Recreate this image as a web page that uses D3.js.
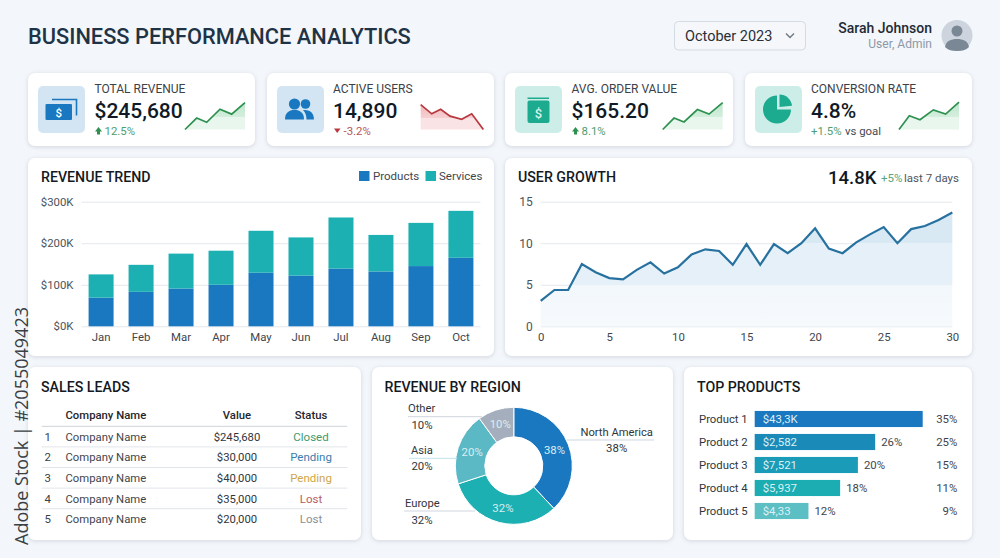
<!DOCTYPE html>
<html><head><meta charset="utf-8">
<script src="https://cdnjs.cloudflare.com/ajax/libs/d3/7.8.5/d3.min.js"></script>
<style>
html,body{margin:0;padding:0;background:#f3f6fa;overflow:hidden}
svg{display:block;font-family:Roboto,sans-serif}
.card{fill:#fff;filter:drop-shadow(0 1px 2px rgba(90,110,135,.22))}
.domain{display:none}
</style></head><body><svg id="c" width="1000" height="558"></svg>
<script>
// ---- data ----
const months=["Jan","Feb","Mar","Apr","May","Jun","Jul","Aug","Sep","Oct"];
const products=[69,83,91,100,129,122,139,132,145,165];
const services=[56,65,84,82,101,92,123,88,104,113];
const revenueTicks=[0,100,200,300];
const growthDays=d3.range(0,31);
const growthValues=[3.05,4.37,4.37,7.5,6.5,5.8,5.65,6.8,7.7,6.35,7.1,8.66,9.27,9.07,7.4,9.9,7.4,9.9,8.8,10,11.8,9.35,8.8,10.1,11.07,11.95,10,11.7,12.07,12.8,13.7];
const growthYTicks=[0,5,10,15];
const growthXTicks=[0,5,10,15,20,25,30];
const kpiLabels=["TOTAL REVENUE","ACTIVE USERS","AVG. ORDER VALUE","CONVERSION RATE"];
const kpiValues=["$245,680","14,890","$165.20","4.8%"];
const kpiDeltas=["12.5%","-3.2%","8.1%","+1.5%"];
const sparkX=[[0,35,65,105,140,180],[0,33,60,88,123,153,188],[0,34,64,104,139,180],[0,31,63,103,140,180]];
const sparkY=[[0,35,22,62,47,82],[76,48,62,41,31,48,0],[0,35,23,61,47,82],[0,42,30,60,47,84]];
const leadNo=[1,2,3,4,5];
const leadNames=["Company Name","Company Name","Company Name","Company Name","Company Name"];
const leadValues=["$245,680","$30,000","$40,000","$35,000","$20,000"];
const leadStatus=["Closed","Pending","Pending","Lost","Lost"];
const regions=["North America","Europe","Asia","Other"];
const regionShare=[38,32,20,10];
const productNames=["Product 1","Product 2","Product 3","Product 4","Product 5"];
const productBars=[35,25.1,21.5,17.8,11.2];
const productRevenue=["$43,3K","$2,582","$7,521","$5,937","$4,33"];
const productShareA=["","26%","20%","18%","12%"];
const productShareB=["35%","25%","15%","11%","9%"];

// ---- styles ----
const kpiX=[28,267,505,745], kpiW=[227,227,228,227], kpiTextX=[94.5,333,571.5,811];
const statusColors=["#3f9a6d","#3c7cab","#d0a646","#b85c64","#8a8f95"];
const regionColors=["#1a78c0","#1cb0b2","#5bb9c6","#a5aebd"];
const barColors=["#1a78c0","#1a8bb8","#1a9cb8","#1cadb2","#5bbfc4"];
const GREEN="#2e9150",RED="#b8383e";
const SMALL=11.4;

const svg=d3.select("#c");
svg.append("rect").attr("width",1000).attr("height",558).attr("fill","#f3f6fa");
const defs=svg.append("defs");
function txt(s,x,y,size,col,opt={}){
  return svg.append("text").attr("x",x).attr("y",y).attr("font-size",size).attr("fill",col)
    .attr("font-weight",opt.w||400).attr("text-anchor",opt.a||"start").text(s);
}
function card(x,y,w,h){svg.append("rect").attr("class","card").attr("x",x).attr("y",y).attr("width",w).attr("height",h).attr("rx",7);}

// header
txt("BUSINESS PERFORMANCE ANALYTICS",28,44,21.8,"#1f3347",{w:500});
svg.append("rect").attr("x",674.5).attr("y",21.5).attr("width",131).attr("height",28.5).attr("rx",4).attr("fill","#f5f7fa").attr("stroke","#d5dbe2");
txt("October 2023",685,41,14.5,"#2a2f36");
svg.append("path").attr("d","M786 33.5l4 4 4-4").attr("fill","none").attr("stroke","#6b7580").attr("stroke-width",1.3);
txt("Sarah Johnson",932,33,14,"#1f2a36",{a:"end",w:500});
txt("User, Admin",932,48,12,"#8d99a8",{a:"end"});
svg.append("circle").attr("cx",957).attr("cy",35.5).attr("r",15.5).attr("fill","#cdd4dd");
svg.append("circle").attr("cx",957).attr("cy",31).attr("r",5.5).attr("fill","#7a8794");
svg.append("path").attr("d","M945 47c1-6 6-8 12-8s11 2 12 8c-3 3-7 4-12 4s-9-1-12-4z").attr("fill","#7a8794");

// KPI cards
kpiX.forEach((x,i)=>{
  card(x,73,kpiW[i],73);
  const ix=x+10, tx=kpiTextX[i];
  svg.append("rect").attr("x",ix).attr("y",86).attr("width",47).attr("height",47).attr("rx",5).attr("fill",i<2?"#d3e5f2":"#cdeee8");
  txt(kpiLabels[i],tx,93,12,"#3b4148");
  txt(kpiValues[i],tx,118,21,"#0f1a26",{w:500});
  const up=i!==1, col=up?GREEN:RED;
  if(i<3){
    const ay=130.5;
    svg.append("path").attr("d",up?`M${x+67} ${ay+1}l3.5-4.5 3.5 4.5h-2v3h-3v-3z`:`M${x+67} ${ay-2}h6.500l-3.250 4.500z`).attr("fill",col);
    txt(kpiDeltas[i],x+76.500,134.5,SMALL,up?"#4f9e70":"#b8555a");
  } else {
    txt(kpiDeltas[i],x+66,134.5,SMALL,"#4f9e70");
    txt("vs goal",x+100,134.5,SMALL,"#444b53");
  }
  // sparkline
  const left=[185,420.7,662.7,899][i];
  const xs=d3.scaleLinear().domain([0,d3.max(sparkX[i])]).range([left,left+d3.max(sparkX[i])/3]);
  const ys=d3.scaleLinear().domain([0,82]).range([129.5,102.7]);
  const gid="sg"+i;
  const g=defs.append("linearGradient").attr("id",gid).attr("x1",0).attr("x2",0).attr("y1",0).attr("y2",1);
  const tones=up?["#bfe5cc","#d5efdd","#e8f6ed"]:["#f0b9bc","#f6d0d2","#fae3e4"];
  [[0,tones[0]],[.55,tones[1]],[.55,tones[2]],[1,tones[2]]].forEach(s=>g.append("stop").attr("offset",s[0]).attr("stop-color",s[1]));
  const pts=sparkX[i].map((v,k)=>[v,sparkY[i][k]]);
  svg.append("path").attr("fill",`url(#${gid})`)
    .attr("d",d3.area().x(d=>xs(d[0])).y0(ys(0)).y1(d=>ys(d[1]))(pts));
  svg.append("path").attr("fill","none").attr("stroke",col).attr("stroke-width",1.7)
    .attr("d",d3.line().x(d=>xs(d[0])).y(d=>ys(d[1]))(pts));
});
// icons
const BLUE="#1a78c0",TEAL="#1dab90";
svg.append("path").attr("d","M52 99.5h24.5v16").attr("fill","none").attr("stroke",BLUE).attr("stroke-width",1.6);
svg.append("rect").attr("x",45.5).attr("y",104).attr("width",26.5).attr("height",16).attr("rx",1).attr("fill",BLUE);
txt("$",58.8,116.5,11.5,"#fff",{a:"middle",w:500});
[[294,110,5.6,BLUE],[305,110,4.8,BLUE]].forEach(c=>svg.append("circle").attr("cx",c[0]+.5).attr("cy",c[1]-6).attr("r",c[2]).attr("fill",c[3]));
svg.append("path").attr("d","M285 119.5c0-7 4-9.5 9.5-9.5s9.5 2.5 9.5 9.5z").attr("fill",BLUE);
svg.append("path").attr("d","M303 110c5 0 11 1 11 9.5h-7.5c0-4-1-7-3.5-9.500z").attr("fill",BLUE);
svg.append("path").attr("d","M527.500 97.500h21.500v1.500h-21.500z").attr("fill",TEAL);
svg.append("rect").attr("x",527.5).attr("y",100.500).attr("width",22).attr("height",22.500).attr("rx",2).attr("fill",TEAL);
txt("$",538.500,117.500,13,"#d6f3ec",{a:"middle",w:500});
const pieIc=d3.arc();
svg.append("path").attr("transform","translate(777,109.500)").attr("fill",TEAL)
  .attr("d",pieIc({innerRadius:0,outerRadius:14,startAngle:Math.PI*.5,endAngle:Math.PI*2}));
svg.append("path").attr("transform","translate(779.500,107)").attr("fill",TEAL)
  .attr("d",pieIc({innerRadius:0,outerRadius:12.500,startAngle:0,endAngle:Math.PI*.47}));

// Revenue trend
card(28,158,466,198);
txt("REVENUE TREND",41,182,14.2,"#14191f",{w:500});
svg.append("rect").attr("x",359).attr("y",171).attr("width",10.500).attr("height",10).attr("fill",barColors[0]);
txt("Products",373,180,11.5,"#3f464d");
svg.append("rect").attr("x",425.500).attr("y",171).attr("width",10.500).attr("height",10).attr("fill",regionColors[1]);
txt("Services",439,180,11.5,"#3f464d");
const rx=d3.scaleBand().domain(months).range([81,481]).paddingInner(.375).paddingOuter(.19);
const ry=d3.scaleLinear().domain([0,300]).range([326.3,201.7]);
const ax1=svg.append("g").attr("transform","translate(81.500,0)")
  .call(d3.axisLeft(ry).tickValues(revenueTicks).tickSize(-399).tickPadding(8).tickFormat(d=>`$${d}K`));
ax1.selectAll("line").attr("stroke","#e4e7eb");
ax1.selectAll("text").attr("font-size",SMALL).attr("fill","#4c535b").attr("font-family","Roboto");
const ax1x=svg.append("g").attr("transform","translate(0,326.300)")
  .call(d3.axisBottom(rx).tickSize(0).tickPadding(7));
ax1x.selectAll("text").attr("font-size",SMALL).attr("fill","#3f464d").attr("font-family","Roboto");
svg.append("g").selectAll("rect").data(months).join("rect")
  .attr("x",d=>rx(d)).attr("width",rx.bandwidth())
  .attr("y",(d,i)=>ry(products[i])).attr("height",(d,i)=>ry(0)-ry(products[i])).attr("fill",barColors[0]);
svg.append("g").selectAll("rect").data(months).join("rect")
  .attr("x",d=>rx(d)).attr("width",rx.bandwidth())
  .attr("y",(d,i)=>ry(products[i]+services[i])).attr("height",(d,i)=>ry(0)-ry(services[i])).attr("fill",regionColors[1]);

// User growth
card(505,158,467,198);
txt("USER GROWTH",518,182,14.2,"#14191f",{w:500});
txt("14.8K",828,184,18.500,"#10181f",{w:500});
txt("+5%",881,182,11.500,"#5aa67a");
txt("last 7 days",959,182,11.500,"#4f565e",{a:"end"});
const gx=d3.scaleLinear().domain([0,30]).range([540.7,952.3]);
const gy=d3.scaleLinear().domain([0,15]).range([326.3,201.7]);
const ax2=svg.append("g").attr("transform","translate(540.700,0)")
  .call(d3.axisLeft(gy).tickValues(growthYTicks).tickSize(-411.600).tickPadding(8));
ax2.selectAll("line").attr("stroke","#e4e7eb");
ax2.selectAll("text").attr("font-size",12).attr("fill","#4c535b").attr("font-family","Roboto");
const ax2x=svg.append("g").attr("transform","translate(0,326.300)")
  .call(d3.axisBottom(gx).tickValues(growthXTicks).tickSize(0).tickPadding(7));
ax2x.selectAll("text").attr("font-size",SMALL).attr("fill","#3f464d").attr("font-family","Roboto");
const gg=defs.append("linearGradient").attr("id","gArea").attr("gradientUnits","userSpaceOnUse")
  .attr("x1",0).attr("x2",0).attr("y1",gy(15)).attr("y2",gy(0));
[[0,"#d9e9f4"],[1/3,"#d9e9f4"],[1/3,"#e6f0f8"],[2/3,"#e6f0f8"],[2/3,"#f2f7fb"],[1,"#f6fafd"]]
  .forEach(s=>gg.append("stop").attr("offset",s[0]).attr("stop-color",s[1]));
svg.append("path").attr("fill","url(#gArea)")
  .attr("d",d3.area().x((d,i)=>gx(growthDays[i])).y0(gy(0)).y1(d=>gy(d))(growthValues));
svg.append("path").attr("fill","none").attr("stroke","#26719f").attr("stroke-width",2.2)
  .attr("d",d3.line().x((d,i)=>gx(growthDays[i])).y(d=>gy(d))(growthValues));

// Sales leads
card(28,367,333,173);
txt("SALES LEADS",41,392,14.2,"#14191f",{w:500});
txt("Company Name",65.500,419,11.300,"#1f252b",{w:500});
txt("Value",237,419,11.300,"#1f252b",{a:"middle",w:500});
txt("Status",311,419,11.300,"#1f252b",{a:"middle",w:500});
const rowY=d3.scaleLinear().domain([1,5]).range([440.700,523.200]);
const lineY=d3.scaleLinear().domain([0,4]).range([426.300,508.700]);
[0,1,2,3,4].forEach(k=>svg.append("line").attr("x1",41.700).attr("x2",347.300).attr("y1",lineY(k)).attr("y2",lineY(k)).attr("stroke",k?"#e1e5ea":"#cfd4da"));
leadNo.forEach((n,i)=>{
  const y=rowY(n);
  txt(n,44.500,y,11.400,"#3a4047");
  txt(leadNames[i],65.500,y,11.300,"#3f454c");
  txt(leadValues[i],237,y,11.300,"#30363c",{a:"middle"});
  txt(leadStatus[i],311,y,11.500,statusColors[i],{a:"middle"});
});

// Revenue by region
card(372,367,301,173);
txt("REVENUE BY REGION",384.500,392,14.2,"#14191f",{w:500});
const pie=d3.pie().sort(null)(regionShare);
const arc=d3.arc().innerRadius(29).outerRadius(58.500);
const dg=svg.append("g").attr("transform","translate(513.800,465.800)");
dg.selectAll("path").data(pie).join("path").attr("d",arc).attr("fill",(d,i)=>regionColors[i]).attr("stroke","#fff").attr("stroke-width",1);
dg.selectAll("text").data(pie).join("text").attr("transform",d=>`translate(${arc.centroid(d)})`).attr("dy","0.35em")
  .attr("text-anchor","middle").attr("font-size",SMALL).attr("fill","#d9eef3").text(d=>d.data+"%");
const leaders=[[566.700,654,440,"#cfd6dd"],[404,475,511,"#cfd6dd"],[409,457,458.300,"#bfe3ea"],[408,482,416.700,"#cfd6dd"]];
leaders.forEach(l=>svg.append("line").attr("x1",l[0]).attr("x2",l[1]).attr("y1",l[2]).attr("y2",l[2]).attr("stroke",l[3]));
const nameAt=[[616.700,436,"middle"],[405,507,"start"],[411,454,"start"],[408,412,"start"]];
const pctAt=[[616.700,452],[422,523.500],[422,470],[422,429]];
regions.forEach((r,i)=>{
  txt(r,nameAt[i][0],nameAt[i][1],11.200,"#30363c",{a:nameAt[i][2]});
  txt(regionShare[i]+"%",pctAt[i][0],pctAt[i][1],SMALL,"#30363c",{a:"middle"});
});

// Top products
card(684,367,288,173);
txt("TOP PRODUCTS",697,392,14.2,"#14191f",{w:500});
const px=d3.scaleLinear().domain([0,35]).range([754.700,922.700]);
const py=d3.scaleBand().domain(productNames).range([407.500,522.500]).paddingInner(.3).paddingOuter(.15);
productNames.forEach((n,i)=>{
  const y=py(n), m=y+py.bandwidth()/2+4.100;
  txt(n,699,m,11.300,"#30363c");
  svg.append("rect").attr("x",px(0)).attr("y",y).attr("width",px(productBars[i])-px(0)).attr("height",py.bandwidth()).attr("fill",barColors[i]);
  txt(productRevenue[i],762.700,m,SMALL,"#dcf0f5");
  if(productShareA[i]) txt(productShareA[i],px(productBars[i])+6,m,SMALL,"#3f454c");
  txt(productShareB[i],957.300,m,SMALL,"#3f454c",{a:"end"});
});

// stock stamp
svg.append("text").attr("transform","translate(28,545) rotate(-90)").attr("font-family","'Open Sans'").attr("font-weight",500)
  .attr("font-size",18).attr("fill","#3a3f44").text("Adobe Stock | #2055049423");
</script></body></html>
